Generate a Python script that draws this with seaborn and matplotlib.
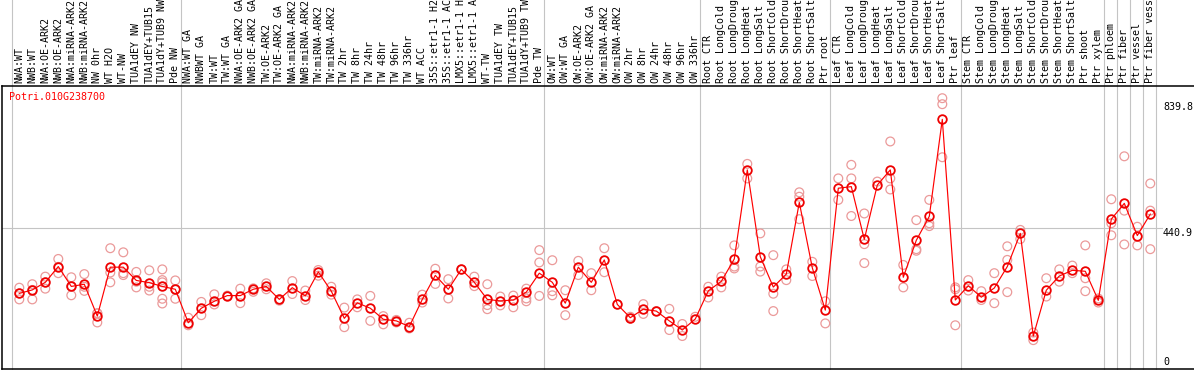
import numpy as np
import pandas as pd
import matplotlib
matplotlib.use("Agg")
import matplotlib.pyplot as plt
import seaborn as sns

# ---------------- data ----------------
title = "Potri.010G238700"

# labels as they are shown (the chart cuts them at 14 characters)
labels = [
    "NWA:WT", "NWB:WT", "NWA:OE-ARK2", "NWB:OE-ARK2", "NWA:miRNA-ARK2", "NWB:miRNA-ARK2",
    "NW 0hr", "WT H2O", "WT-NW", "TUA1dEY NW", "TUA1dEY+TUB15", "TUA1dY+TUB9 NW", "Pde NW",
    "NWA:WT GA", "NWBWT GA", "TW:WT", "TW:WT GA", "NWA:OE-ARK2 GA", "NWB:OE-ARK2 GA",
    "TW:OE-ARK2", "TW:OE-ARK2 GA", "NWA:miRNA-ARK2", "NWB:miRNA-ARK2", "TW:miRNA-ARK2",
    "TW:miRNA-ARK2", "TW 2hr", "TW 8hr", "TW 24hr", "TW 48hr", "TW 96hr", "TW 336hr",
    "WT ACC", "35S::etr1-1 H2", "35S::etr1-1 AC", "LMX5::etr1-1 H", "LMX5::etr1-1 A",
    "WT-TW", "TUA1dEY TW", "TUA1dEY+TUB15", "TUA1dY+TUB9 TW", "Pde TW",
    "OW:WT", "OW:WT GA", "OW:OE-ARK2", "OW:OE-ARK2 GA", "OW:miRNA-ARK2", "OW:miRNA-ARK2",
    "OW 2hr", "OW 8hr", "OW 24hr", "OW 48hr", "OW 96hr", "OW 336hr",
    "Root CTR", "Root LongCold", "Root LongDroug", "Root LongHeat", "Root LongSalt",
    "Root ShortCold", "Root ShortDrou", "Root ShortHeat", "Root ShortSalt", "Ptr root",
    "Leaf CTR", "Leaf LongCold", "Leaf LongDroug", "Leaf LongHeat", "Leaf LongSalt",
    "Leaf ShortCold", "Leaf ShortDrou", "Leaf ShortHeat", "Leaf ShortSalt", "Ptr leaf",
    "Stem CTR", "Stem LongCold", "Stem LongDroug", "Stem LongHeat", "Stem LongSalt",
    "Stem ShortCold", "Stem ShortDrou", "Stem ShortHeat", "Stem ShortSalt", "Ptr shoot",
    "Ptr xylem", "Ptr phloem", "Ptr fiber", "Ptr vessel", "Ptr fiber vess",
]

means = [
    234, 245, 269, 319, 256, 263, 162, 317, 317, 275, 268, 256, 247,
    141, 187, 209, 227, 227, 247, 256, 215, 252, 226, 302, 241, 155, 204, 187,
    152, 147, 129, 215, 291, 247, 310, 269, 215, 210, 213, 238, 298,
    269, 203, 317, 269, 340, 199, 157, 184, 178, 147, 118, 153,
    242, 272, 343, 625, 350, 254, 295, 522, 315, 181,
    567, 572, 405, 577, 625, 285, 402, 478, 785, 213,
    258, 222, 251, 319, 424, 99, 244, 289, 307, 304, 212,
    469, 519, 417, 485,
]

replicates = [
    [252, 234, 215], [263, 245, 215], [287, 249, 269], [343, 298, 318],
    [285, 228, 256], [295, 242, 255], [171, 142, 171], [377, 300, 269],
    [364, 292, 298], [302, 253, 271], [307, 255, 243], [310, 276, 269, 217, 202],
    [275, 217, 247],
    [157, 133], [207, 165], [231, 199], [227], [249, 203], [250, 239], [266, 247],
    [215, 211], [273, 232], [243, 213], [308, 290], [255, 230], [189, 127],
    [215, 190], [226, 147], [162, 136], [150, 142], [141, 123], [230, 205],
    [312, 264], [279, 218], [310], [287, 257], [263, 197, 184], [224, 196],
    [227, 190], [249, 218, 209], [371, 332, 226],
    [339, 241, 228], [244, 165], [337, 292], [298, 244], [377, 301], [199],
    [160, 154], [200, 169], [178], [185, 118], [137, 99], [160],
    [255, 221], [287, 253], [386, 319, 313], [644, 598], [424, 319, 303],
    [355, 233, 178], [310, 276], [554, 540, 469], [334, 289], [209, 139],
    [598, 530], [641, 598, 479], [487, 390, 330], [588], [715, 598, 563],
    [324, 253], [466, 374, 369], [530, 456, 447], [852, 833, 665], [253, 247, 133],
    [276, 243], [241, 213], [298, 203], [383, 340, 238], [435, 406], [110, 86],
    [282, 224], [310, 271], [322, 298], [386, 282, 241], [218, 205],
    [532, 456, 418], [668, 496, 389], [445, 386], [582, 496, 374],
]

group_starts = [0, 13, 41, 53, 63, 73, 84, 85, 86, 87, 88]
ytick_vals = [0, 440.9, 839.8]
ytick_labels = ["0", "440.9", "839.8"]

# ---------------- frames ----------------
idx = np.arange(len(labels))
mean_df = pd.DataFrame({"x": idx, "value": means})
rep_df = pd.DataFrame(
    [(i, v) for i, reps in enumerate(replicates) for v in reps], columns=["x", "value"]
)

# ---------------- figure ----------------
W, H = 1194, 370
fig = plt.figure(figsize=(W / 100, H / 100), dpi=100)
mono = "DejaVu Sans Mono"
plt.rcParams["font.family"] = [mono, "DejaVu Sans"]

ax_left, ax_right, ax_top, ax_bot = 1.5, 1194.0, 86.0, 369.0
ax = fig.add_axes([ax_left / W, (H - ax_bot) / H, (ax_right - ax_left) / W, (ax_bot - ax_top) / H])

x0_px, step_px = 19.3, 13.0
ax.set_xlim((ax_left - x0_px) / step_px, (ax_right - x0_px) / step_px)
ax.set_ylim(-5.4, 890.6)

grid_c = "#c4c4c4"
for g in group_starts:
    ax.axvline(g - 0.6, ymin=0, ymax=(ax_bot - 0) / (ax_bot - ax_top), color=grid_c,
               lw=0.8, clip_on=False, zorder=0)
ax.axhline(ytick_vals[1], xmin=0, xmax=(1162 - ax_left) / (ax_right - ax_left),
           color=grid_c, lw=0.8, zorder=0)

sns.scatterplot(data=rep_df, x="x", y="value", ax=ax, marker="o", s=40,
                facecolors="none", edgecolor="#EB9A9A", linewidth=0.9, zorder=2)
sns.lineplot(data=mean_df, x="x", y="value", ax=ax, color="#FF0000", lw=0.85,
             marker="o", markersize=6.2, markerfacecolor="none",
             markeredgecolor="#EE0000", markeredgewidth=1.3, zorder=3)

ax.xaxis.tick_top()
ax.set_xticks(idx)
ax.set_xticklabels(labels, rotation=90, fontsize=7.2, family=mono, color="black")
ax.tick_params(axis="x", length=0, pad=2.0)
ax.set_yticks([])
ax.set_xlabel("")
ax.set_ylabel("")

xlab = (1163 - x0_px) / step_px
for v, t in zip(ytick_vals, ytick_labels):
    ax.text(xlab, v, t, ha="left", va="bottom" if v == 0 else "top",
            fontsize=7.2, family=mono, color="black")

for side in ["left", "top", "bottom"]:
    ax.spines[side].set_color("black")
    ax.spines[side].set_linewidth(1.1)
ax.spines["right"].set_visible(False)

fig.text(9.3 / W, 1 - 92.5 / H, title, color="#FF0000", fontsize=7.2, family=mono,
         ha="left", va="top")

fig.savefig("out.png", dpi=100)
